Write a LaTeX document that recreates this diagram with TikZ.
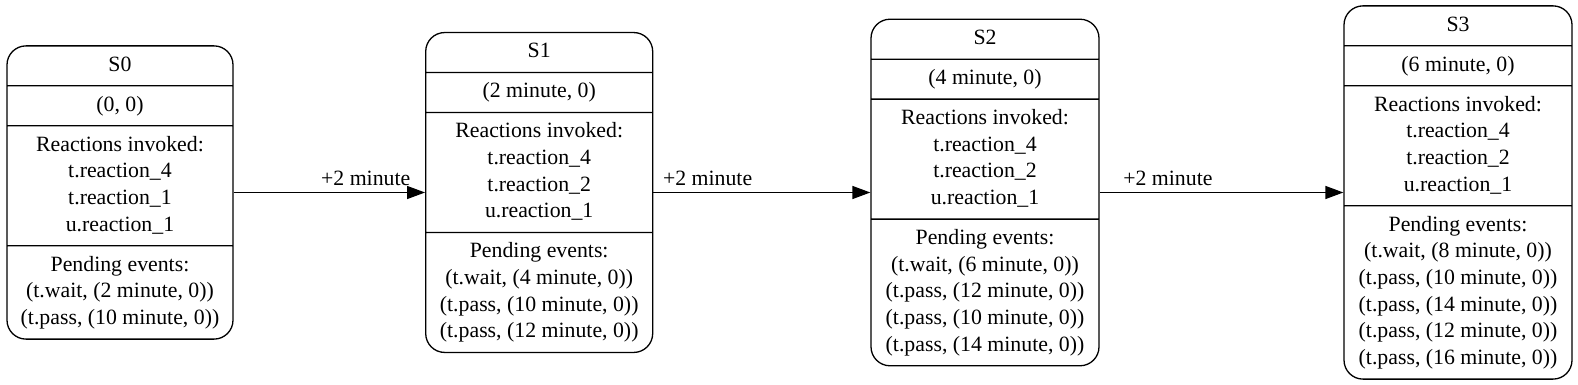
\documentclass[tikz,border=0pt]{standalone}
\usepackage{fontspec}
\setmainfont{Liberation Serif}
\usetikzlibrary{arrows.meta,shapes.multipart}

\begin{document}
\begin{tikzpicture}[x=1pt,y=1pt,>=Stealth,line join=round,
  font=\fontsize{21.8}{26.67}\selectfont,
  state/.style={draw,line width=1.3pt,rectangle split,rectangle split parts=4,
    rounded corners=19pt,align=center,inner xsep=4pt,inner ysep=6pt,minimum width=227pt},
  edge/.style={line width=1.3pt,-{Triangle[length=18pt,width=13pt]}},
  elabel/.style={above,inner sep=6.5pt}]
\useasboundingbox (0,0) rectangle (1578,385);
\fill[white] (0,0) rectangle (1578,385);

% states
\node[state,minimum width=226pt] (s0) at (120,192.5) {\strut S0
  \nodepart{two}\strut (0, 0)
  \nodepart{three}\strut Reactions invoked:\\\strut t.reaction\_4\\\strut t.reaction\_1\\\strut u.reaction\_1
  \nodepart{four}\strut Pending events:\\\strut (t.wait, (2 minute, 0))\\\strut (t.pass, (10 minute, 0))};
\node[state] (s1) at (539.2,192.5) {\strut S1
  \nodepart{two}\strut (2 minute, 0)
  \nodepart{three}\strut Reactions invoked:\\\strut t.reaction\_4\\\strut t.reaction\_2\\\strut u.reaction\_1
  \nodepart{four}\strut Pending events:\\\strut (t.wait, (4 minute, 0))\\\strut (t.pass, (10 minute, 0))\\\strut (t.pass, (12 minute, 0))};
\node[state,minimum width=228pt] (s2) at (985,192.5) {\strut S2
  \nodepart{two}\strut (4 minute, 0)
  \nodepart{three}\strut Reactions invoked:\\\strut t.reaction\_4\\\strut t.reaction\_2\\\strut u.reaction\_1
  \nodepart{four}\strut Pending events:\\\strut (t.wait, (6 minute, 0))\\\strut (t.pass, (12 minute, 0))\\\strut (t.pass, (10 minute, 0))\\\strut (t.pass, (14 minute, 0))};
\node[state,minimum width=228pt] (s3) at (1458,192.5) {\strut S3
  \nodepart{two}\strut (6 minute, 0)
  \nodepart{three}\strut Reactions invoked:\\\strut t.reaction\_4\\\strut t.reaction\_2\\\strut u.reaction\_1
  \nodepart{four}\strut Pending events:\\\strut (t.wait, (8 minute, 0))\\\strut (t.pass, (10 minute, 0))\\\strut (t.pass, (14 minute, 0))\\\strut (t.pass, (12 minute, 0))\\\strut (t.pass, (16 minute, 0))};

% transitions
\draw[edge] (s0.east) -- node[elabel,pos=.69] (l01) {+2 minute} (s1.west);
\draw[edge] (s1.east) -- node[elabel,pos=.25] (l12) {+2 minute} (s2.west);
\draw[edge] (s2.east) -- node[elabel,pos=.28] (l23) {+2 minute} (s3.west);
\end{tikzpicture}
\end{document}
